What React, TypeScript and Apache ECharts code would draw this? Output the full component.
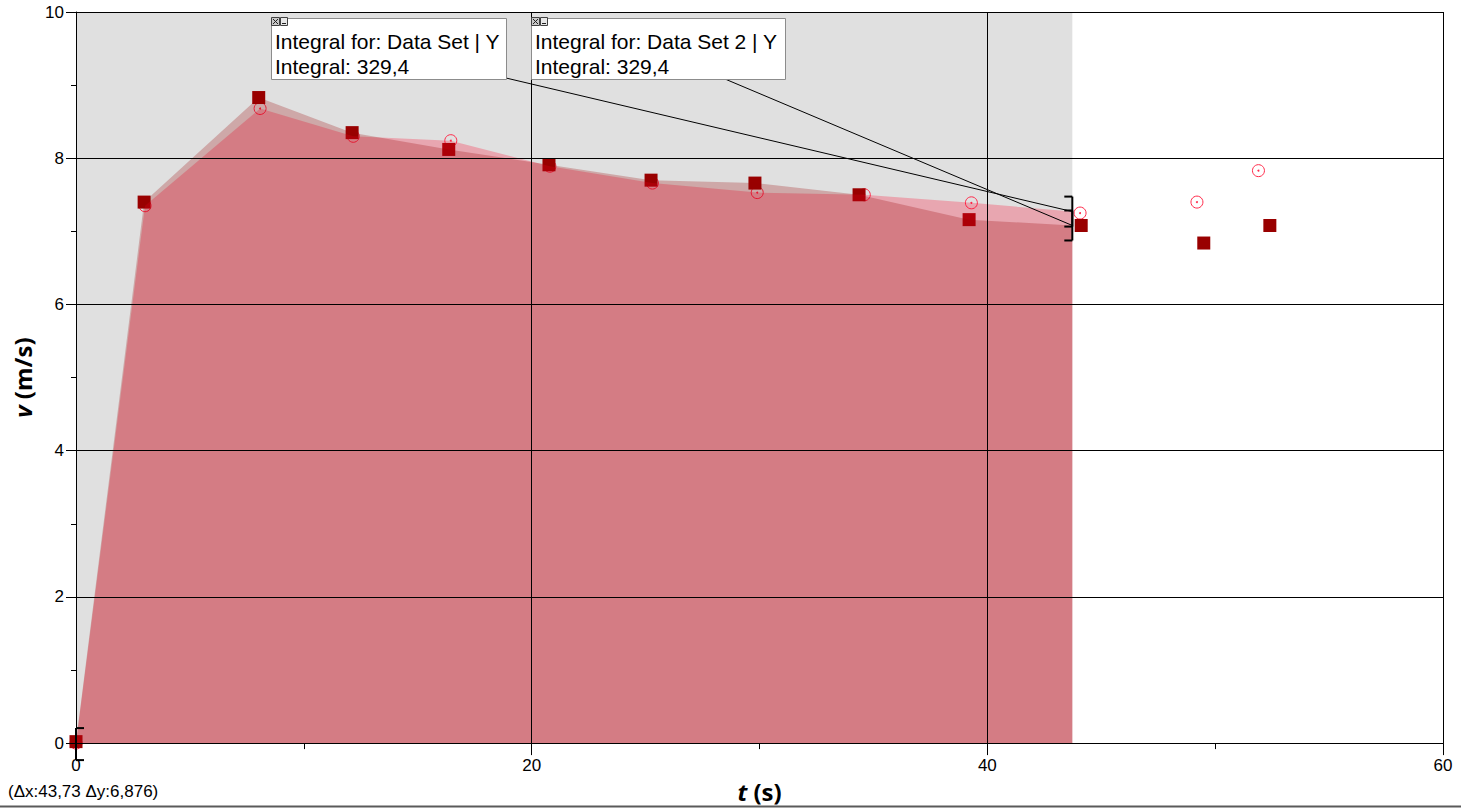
import React, { useEffect, useRef } from "react";
import * as echarts from "echarts";

// Data Set (squares)
const ds1T = [0, 2.99, 8.02, 12.12, 16.36, 20.76, 25.24, 29.8, 34.37, 39.2, 44.12, 49.5, 52.4];
const ds1V = [0.02, 7.4, 8.83, 8.35, 8.12, 7.91, 7.7, 7.66, 7.5, 7.16, 7.08, 6.84, 7.08];
// Data Set 2 (circles)
const ds2T = [0, 3.03, 8.08, 12.17, 16.45, 20.8, 25.3, 29.9, 34.6, 39.3, 44.07, 49.2, 51.9];
const ds2V = [0, 7.35, 8.68, 8.3, 8.24, 7.89, 7.66, 7.53, 7.5, 7.39, 7.25, 7.4, 7.83];

// Integral region
const integralStart = 0;
const integralEnd = 43.73;
const ds1EndV = 7.08;
const ds2EndV = 7.27;

const xMin = 0;
const xMax = 60;
const xInterval = 20;
const yMin = 0;
const yMax = 10;
const yInterval = 2;

const box1Lines = ["Integral for: Data Set | Y", "Integral: 329,4"];
const box2Lines = ["Integral for: Data Set 2 | Y", "Integral: 329,4"];
const deltaText = "(Δx:43,73 Δy:6,876)";

const LABEL_FONT = '"Liberation Sans", Arial, sans-serif';
const TITLE_FONT = '"Open Sans", sans-serif';

function pairs(t: number[], v: number[]) {
  return t.map((x, i) => [x, v[i]]);
}

function areaData(t: number[], v: number[], endV: number) {
  const out: number[][] = [];
  t.forEach((x, i) => {
    if (x >= integralStart && x <= integralEnd) out.push([x, v[i]]);
  });
  out.push([integralEnd, endV]);
  return out;
}

function buildOption() {
  return {
    animation: false,
    backgroundColor: "#ffffff",
    grid: { left: 76, top: 12, right: 18, bottom: 64, containLabel: false },
    xAxis: {
      type: "value",
      min: xMin,
      max: xMax,
      interval: xInterval,
      z: 10,
      axisLine: { show: true, onZero: false, lineStyle: { color: "#000", width: 1 } },
      axisTick: { show: true, length: 12, lineStyle: { color: "#000", width: 1 } },
      minorTick: { show: true, splitNumber: 2, length: 6, lineStyle: { color: "#000", width: 1 } },
      splitLine: { show: true, lineStyle: { color: "#000", width: 1 } },
      axisLabel: { color: "#000", fontSize: 17, fontFamily: LABEL_FONT, margin: 14 },
      name: "{i|t} (s)",
      nameLocation: "middle",
      nameGap: 34,
      nameTextStyle: {
        color: "#000",
        fontSize: 24,
        fontWeight: "bold",
        fontFamily: TITLE_FONT,
        rich: { i: { fontStyle: "italic", fontWeight: "bold", fontSize: 24, fontFamily: TITLE_FONT, color: "#000" } },
      },
    },
    yAxis: {
      type: "value",
      min: yMin,
      max: yMax,
      interval: yInterval,
      z: 10,
      axisLine: { show: true, onZero: false, lineStyle: { color: "#000", width: 1 } },
      axisTick: { show: true, length: 10, lineStyle: { color: "#000", width: 1 } },
      minorTick: { show: true, splitNumber: 2, length: 5, lineStyle: { color: "#000", width: 1 } },
      splitLine: { show: true, lineStyle: { color: "#000", width: 1 } },
      axisLabel: { color: "#000", fontSize: 17, fontFamily: LABEL_FONT, margin: 12 },
      name: "{i|v} (m/s)",
      nameLocation: "middle",
      nameGap: 34,
      nameTextStyle: {
        color: "#000",
        fontSize: 24,
        fontWeight: "bold",
        fontFamily: TITLE_FONT,
        rich: { i: { fontStyle: "italic", fontWeight: "bold", fontSize: 24, fontFamily: TITLE_FONT, color: "#000" } },
      },
    },
    series: [
      {
        type: "line",
        name: "Data Set 2 area",
        data: areaData(ds2T, ds2V, ds2EndV),
        symbol: "none",
        lineStyle: { width: 0, opacity: 0 },
        areaStyle: { color: "rgba(255,0,40,0.26)", opacity: 1 },
        silent: true,
        markArea: {
          silent: true,
          itemStyle: { color: "#e0e0e0", opacity: 1, borderWidth: 0 },
          data: [[{ coord: [integralStart, yMin] }, { coord: [integralEnd, yMax] }]],
        },
      },
      {
        type: "line",
        name: "Data Set area",
        data: areaData(ds1T, ds1V, ds1EndV),
        symbol: "none",
        lineStyle: { width: 0, opacity: 0 },
        areaStyle: { color: "rgba(153,0,0,0.25)", opacity: 1 },
        silent: true,
      },
      {
        type: "scatter",
        name: "Data Set 2",
        data: pairs(ds2T, ds2V),
        symbol: "circle",
        symbolSize: 12,
        itemStyle: { color: "rgba(0,0,0,0)", borderColor: "#ff2a4a", borderWidth: 1, opacity: 1 },
      },
      {
        type: "scatter",
        name: "Data Set 2 dot",
        data: pairs(ds2T, ds2V),
        symbol: "circle",
        symbolSize: 2,
        itemStyle: { color: "#ff2a4a", opacity: 1 },
      },
      {
        type: "scatter",
        name: "Data Set",
        data: pairs(ds1T, ds1V),
        symbol: "rect",
        symbolSize: 13,
        itemStyle: { color: "#990000", opacity: 1 },
      },
    ],
  };
}

function annotationBox(x: number, y: number, w: number, h: number, lines: string[]) {
  const els: any[] = [
    {
      type: "rect",
      z: 20,
      shape: { x: x + 0.5, y: y + 0.5, width: w, height: h },
      style: { fill: "#ffffff", stroke: "#8c8c8c", lineWidth: 1 },
    },
    {
      type: "text",
      z: 21,
      style: { text: lines[0], x: x + 4, y: y + 23, font: `21px ${LABEL_FONT}`, fill: "#000", verticalAlign: "middle" },
    },
    {
      type: "text",
      z: 21,
      style: { text: lines[1], x: x + 4, y: y + 48, font: `21px ${LABEL_FONT}`, fill: "#000", verticalAlign: "middle" },
    },
    // close icon
    {
      type: "rect",
      z: 22,
      shape: { x: x + 0.5, y: y - 0.5, width: 8, height: 8 },
      style: { fill: "#c8c8c8", stroke: "#404040", lineWidth: 1 },
    },
    { type: "line", z: 23, shape: { x1: x + 2, y1: y + 1, x2: x + 7, y2: y + 6 }, style: { stroke: "#202020", lineWidth: 1 } },
    { type: "line", z: 23, shape: { x1: x + 7, y1: y + 1, x2: x + 2, y2: y + 6 }, style: { stroke: "#202020", lineWidth: 1 } },
    // minimize icon
    {
      type: "rect",
      z: 22,
      shape: { x: x + 9.5, y: y - 0.5, width: 7, height: 8 },
      style: { fill: "#e6e6e6", stroke: "#404040", lineWidth: 1 },
    },
    { type: "line", z: 23, shape: { x1: x + 11, y1: y + 5.5, x2: x + 15, y2: y + 5.5 }, style: { stroke: "#202020", lineWidth: 1 } },
  ];
  return els;
}

function bracket(px: number, py: number, half: number, dir: number) {
  const els: any[] = [
    { type: "line", z: 15, shape: { x1: px, y1: py - half, x2: px, y2: py + half }, style: { stroke: "#000", lineWidth: 2 } },
    { type: "line", z: 15, shape: { x1: px, y1: py - half, x2: px + dir * 8, y2: py - half }, style: { stroke: "#000", lineWidth: 2 } },
    { type: "line", z: 15, shape: { x1: px, y1: py + half, x2: px + dir * 8, y2: py + half }, style: { stroke: "#000", lineWidth: 2 } },
  ];
  return els;
}

function buildGraphic(chart: any) {
  const p = (x: number, y: number) => chart.convertToPixel({ gridIndex: 0 }, [x, y]) as number[];
  const start = p(integralStart, 0);
  const end1 = p(integralEnd, ds1EndV);
  const end2 = p(integralEnd, ds2EndV);

  const b1 = { x: 271, y: 18, w: 235, h: 61 };
  const b2 = { x: 531, y: 18, w: 254, h: 61 };

  const els: any[] = [
    ...bracket(start[0], start[1] + 1, 16, 1),
    ...bracket(end2[0], end2[1], 15, -1),
    ...bracket(end1[0], end1[1], 15, -1),
    {
      type: "line",
      z: 15,
      shape: { x1: b1.x + b1.w, y1: b1.y + b1.h - 1, x2: end2[0], y2: end2[1] },
      style: { stroke: "#000", lineWidth: 1 },
    },
    {
      type: "line",
      z: 15,
      shape: { x1: 725, y1: b2.y + b2.h, x2: end1[0], y2: end1[1] },
      style: { stroke: "#000", lineWidth: 1 },
    },
    ...annotationBox(b1.x, b1.y, b1.w, b1.h, box1Lines),
    ...annotationBox(b2.x, b2.y, b2.w, b2.h, box2Lines),
    {
      type: "text",
      z: 20,
      style: { text: deltaText, x: 8, y: 791, font: `17px ${LABEL_FONT}`, fill: "#000", verticalAlign: "middle" },
    },
    {
      type: "line",
      z: 20,
      shape: { x1: 0, y1: 806.5, x2: 1461, y2: 806.5 },
      style: { stroke: "#5a5a5a", lineWidth: 2 },
    },
  ];
  return els;
}

export default function App() {
  const ref = useRef<HTMLDivElement>(null);
  useEffect(() => {
    if (!ref.current) return;
    const chart = echarts.init(ref.current, null, { renderer: "svg" });
    chart.setOption(buildOption() as any);
    chart.setOption({ graphic: { elements: buildGraphic(chart) } } as any);
    return () => {
      chart.dispose();
    };
  }, []);
  return (
    <div
      ref={ref}
      style={{ position: "fixed", left: 0, top: 0, width: 1461, height: 808, background: "#fff" }}
    />
  );
}
